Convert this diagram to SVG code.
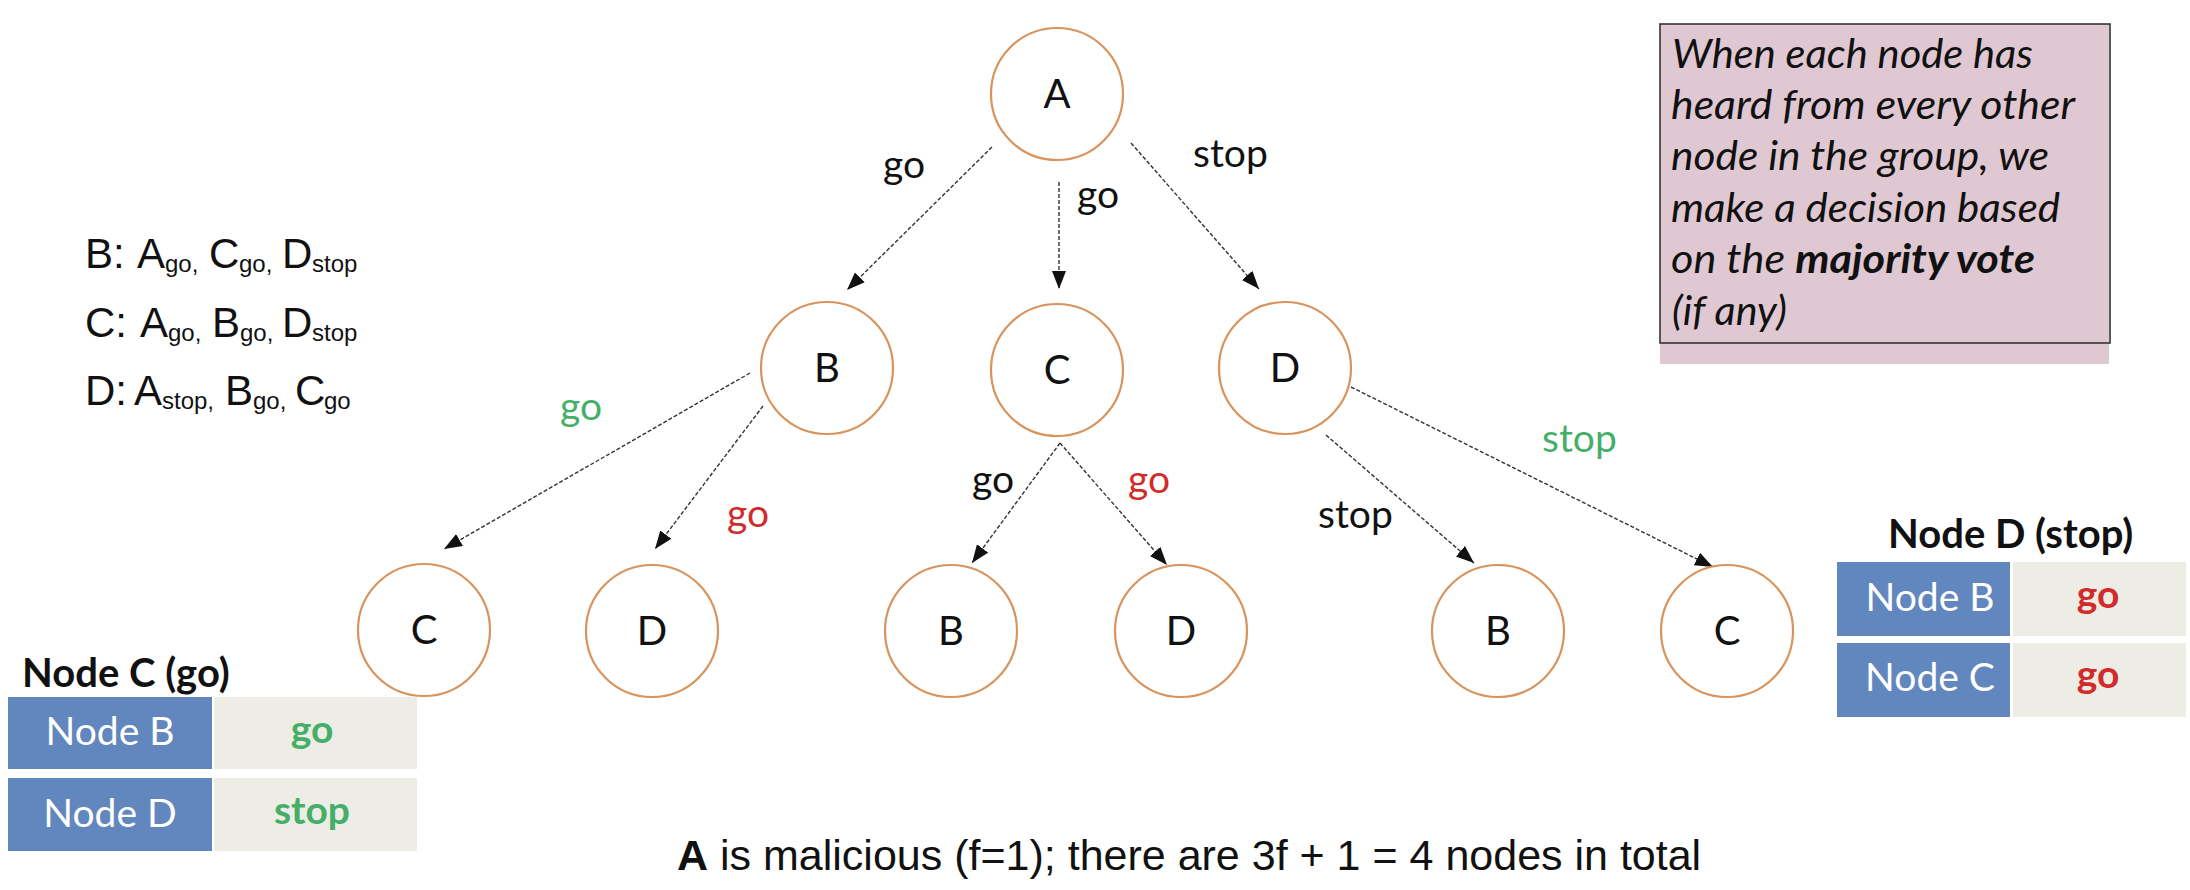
<svg xmlns="http://www.w3.org/2000/svg" width="2190" height="890" viewBox="0 0 2190 890">
<defs>
<marker id="ah" markerUnits="userSpaceOnUse" markerWidth="20" markerHeight="16" refX="18" refY="7" orient="auto">
<path d="M0,0 L18,7 L0,14 z" fill="#111"/>
</marker>
<style>
.node circle{fill:#fff;stroke:#d9935c;stroke-width:2.2}
.node text{font-family:Lato,"Liberation Sans",sans-serif;font-size:40px;fill:#111;text-anchor:middle}
.conn line{stroke:#333;stroke-width:1.4;stroke-dasharray:4 2;marker-end:url(#ah)}
.lbl{font-family:Lato,"Liberation Sans",sans-serif;font-size:39px}
.blk{fill:#111}.grn{fill:#45ae68}.red{fill:#d12b2b}
.arial{font-family:"Liberation Sans",Arial,sans-serif;fill:#111}
.sub{font-size:24px}
.note{font-family:Lato,"Liberation Sans",sans-serif;font-style:italic;font-size:40px;fill:#111}
.cellb{fill:#6287bf}.cellg{fill:#edece5}
.ct{font-family:Lato,"Liberation Sans",sans-serif;font-size:39px;fill:#fff;text-anchor:middle}
.cv{font-family:Lato,"Liberation Sans",sans-serif;font-size:39px;font-weight:bold;text-anchor:middle}
.tt{font-family:Lato,"Liberation Sans",sans-serif;font-size:40px;font-weight:bold;fill:#111}
</style>
</defs>
<rect width="2190" height="890" fill="#fff"/>

<g id="connectors" class="conn">
<line x1="992" y1="147" x2="847" y2="290"/>
<line x1="1059" y1="182" x2="1059" y2="289"/>
<line x1="1131" y1="143" x2="1259" y2="289"/>
<line x1="750" y1="373" x2="444" y2="549"/>
<line x1="763" y1="406" x2="655" y2="549"/>
<line x1="1060" y1="443" x2="972" y2="563"/>
<line x1="1060" y1="443" x2="1167" y2="565"/>
<line x1="1326" y1="435" x2="1474" y2="563"/>
<line x1="1351" y1="387" x2="1713" y2="567"/>
</g>

<g id="edge-labels" class="lbl">
<text class="blk" x="883" y="178">go</text>
<text class="blk" x="1077" y="208">go</text>
<text class="blk" x="1193" y="167">stop</text>
<text class="grn" x="560" y="420">go</text>
<text class="red" x="727" y="527">go</text>
<text class="blk" x="972" y="493">go</text>
<text class="red" x="1128" y="493">go</text>
<text class="blk" x="1318" y="528">stop</text>
<text class="grn" x="1542" y="452">stop</text>
</g>

<g id="node-A" class="node"><circle cx="1057" cy="94" r="66"/><text x="1057" y="108">A</text></g>
<g id="node-B" class="node"><circle cx="827" cy="368" r="66"/><text x="827" y="382">B</text></g>
<g id="node-C" class="node"><circle cx="1057" cy="370" r="66"/><text x="1057" y="384">C</text></g>
<g id="node-D" class="node"><circle cx="1285" cy="368" r="66"/><text x="1285" y="382">D</text></g>
<g id="node-B-C" class="node"><circle cx="424" cy="630" r="66"/><text x="424" y="644">C</text></g>
<g id="node-B-D" class="node"><circle cx="652" cy="631" r="66"/><text x="652" y="645">D</text></g>
<g id="node-C-B" class="node"><circle cx="951" cy="631" r="66"/><text x="951" y="645">B</text></g>
<g id="node-C-D" class="node"><circle cx="1181" cy="631" r="66"/><text x="1181" y="645">D</text></g>
<g id="node-D-B" class="node"><circle cx="1498" cy="631" r="66"/><text x="1498" y="645">B</text></g>
<g id="node-D-C" class="node"><circle cx="1727" cy="631" r="66"/><text x="1727" y="645">C</text></g>

<g id="vote-list" class="arial" font-size="42">
<text><tspan x="85" y="268">B:</tspan><tspan x="137" y="268">A</tspan><tspan class="sub" x="165" y="272">go,</tspan><tspan x="209" y="268">C</tspan><tspan class="sub" x="239" y="272">go,</tspan><tspan x="282" y="268">D</tspan><tspan class="sub" x="312" y="272">stop</tspan></text>
<text><tspan x="85" y="337">C:</tspan><tspan x="140" y="337">A</tspan><tspan class="sub" x="168" y="341">go,</tspan><tspan x="212" y="337">B</tspan><tspan class="sub" x="240" y="341">go,</tspan><tspan x="282" y="337">D</tspan><tspan class="sub" x="312" y="341">stop</tspan></text>
<text><tspan x="85" y="405">D:</tspan><tspan x="134" y="405">A</tspan><tspan class="sub" x="162" y="409">stop,</tspan><tspan x="225" y="405">B</tspan><tspan class="sub" x="253" y="409">go,</tspan><tspan x="295" y="405">C</tspan><tspan class="sub" x="324" y="409">go</tspan></text>
</g>

<g id="note">
<rect x="1660" y="24" width="449" height="340" fill="#dfc8d1"/>
<rect x="1660" y="24" width="450" height="319" fill="none" stroke="#333" stroke-width="1.6"/>
<text class="note" x="1672" y="68" textLength="361" lengthAdjust="spacingAndGlyphs">When each node has</text>
<text class="note" x="1671" y="119" textLength="404" lengthAdjust="spacingAndGlyphs">heard from every other</text>
<text class="note" x="1671" y="170" textLength="378" lengthAdjust="spacingAndGlyphs">node in the group, we</text>
<text class="note" x="1671" y="222" textLength="389" lengthAdjust="spacingAndGlyphs">make a decision based</text>
<text class="note" x="1671" y="273" textLength="364" lengthAdjust="spacingAndGlyphs">on the <tspan font-weight="bold">majority vote</tspan></text>
<text class="note" x="1672" y="325" textLength="115" lengthAdjust="spacingAndGlyphs">(if any)</text>
</g>

<g id="table-node-C">
<text class="tt" x="22" y="687">Node C (go)</text>
<rect class="cellb" x="8" y="697" width="204" height="72"/>
<rect class="cellg" x="214" y="697" width="203" height="72"/>
<rect class="cellb" x="8" y="778" width="204" height="73"/>
<rect class="cellg" x="214" y="778" width="203" height="73"/>
<text class="ct" x="110" y="745">Node B</text>
<text class="cv grn" x="312" y="743">go</text>
<text class="ct" x="110" y="827">Node D</text>
<text class="cv grn" x="312" y="824">stop</text>
</g>

<g id="table-node-D">
<text class="tt" x="1888" y="548">Node D (stop)</text>
<rect class="cellb" x="1837" y="562" width="173" height="74"/>
<rect class="cellg" x="2013" y="562" width="173" height="74"/>
<rect class="cellb" x="1837" y="643" width="173" height="74"/>
<rect class="cellg" x="2013" y="643" width="173" height="74"/>
<text class="ct" x="1930" y="611">Node B</text>
<text class="cv red" x="2098" y="608">go</text>
<text class="ct" x="1930" y="691">Node C</text>
<text class="cv red" x="2098" y="688">go</text>
</g>

<g id="caption">
<text class="arial" x="677" y="870" font-size="43"><tspan font-weight="bold">A</tspan> is malicious (f=1); there are 3f + 1 = 4 nodes in total</text>
</g>
</svg>
